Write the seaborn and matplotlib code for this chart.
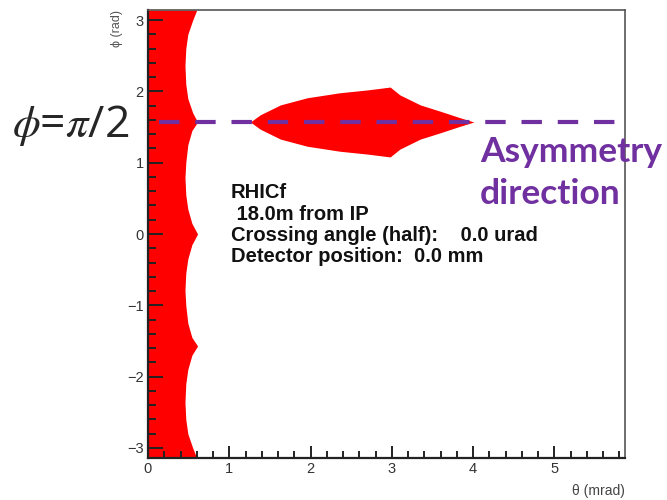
from __future__ import annotations

import matplotlib

matplotlib.use("Agg")

import matplotlib.pyplot as plt
import numpy as np
import pandas as pd
import seaborn as sns


# Left acceptance strip: phi (rad) vs. outer theta edge (mrad)
STRIP_PHI = [
    -3.1416, -3.0, -2.8, -2.6, -2.36, -2.1, -1.9, -1.7, -1.5708,
    -1.45, -1.25, -1.0, -0.79, -0.55, -0.35, -0.15, 0.0,
    0.15, 0.35, 0.55, 0.79, 1.0, 1.25, 1.45, 1.5708,
    1.7, 1.9, 2.1, 2.36, 2.6, 2.8, 3.0, 3.1416,
]
STRIP_THETA = [
    0.60, 0.55, 0.49, 0.465, 0.455, 0.465, 0.49, 0.54, 0.61,
    0.54, 0.49, 0.465, 0.455, 0.465, 0.49, 0.54, 0.61,
    0.54, 0.49, 0.465, 0.455, 0.465, 0.49, 0.54, 0.61,
    0.55, 0.49, 0.465, 0.455, 0.465, 0.49, 0.55, 0.60,
]

# Lens-shaped acceptance around phi = pi/2: theta (mrad) vs. half width in phi
LENS_THETA = [1.26, 1.38, 1.63, 1.96, 2.36, 2.70, 2.98, 3.10, 3.35, 3.60, 3.84, 4.01]
LENS_HALF = [0.0, 0.10, 0.24, 0.34, 0.41, 0.45, 0.49, 0.38, 0.24, 0.15, 0.06, 0.0]
LENS_CENTER = 1.5708

# Dashed asymmetry direction line
DIR_THETA = [0.135, 5.91]
DIR_PHI = [1.5708, 1.5708]

X_TICKS = [0, 1, 2, 3, 4, 5]
Y_TICKS = [-3, -2, -1, 0, 1, 2, 3]

INFO_LINES = [
    "RHICf",
    " 18.0m from IP",
    "Crossing angle (half):    0.0 urad",
    "Detector position:  0.0 mm",
]

RED = "#ff0000"
PURPLE = "#7030a0"


def main() -> None:
    sns.set_style("ticks")
    plt.rcParams["font.family"] = ["Liberation Sans", "DejaVu Sans"]

    fig = plt.figure(figsize=(6.67, 5.0), dpi=100)
    ax = fig.add_axes([148 / 667, 42 / 500, 477 / 667, 448 / 500])

    ax.fill_betweenx(STRIP_PHI, 0, STRIP_THETA, color=RED, linewidth=0, zorder=1)

    lens_theta = np.array(LENS_THETA)
    lens_half = np.array(LENS_HALF)
    ax.fill_between(
        lens_theta,
        LENS_CENTER - lens_half,
        LENS_CENTER + lens_half,
        color=RED,
        linewidth=0,
        zorder=1,
    )

    line_df = pd.DataFrame({"theta": DIR_THETA, "phi": DIR_PHI})
    sns.lineplot(data=line_df, x="theta", y="phi", ax=ax, color=PURPLE,
                 linewidth=3.0, zorder=4)
    dir_line = ax.lines[-1]
    dir_line.set_dashes((4.9, 3.8))
    dir_line.set_clip_on(False)

    ax.set_xlim(0, 5.87)
    ax.set_ylim(-3.1416, 3.1416)
    ax.set_xticks(X_TICKS)
    ax.set_yticks(Y_TICKS)
    ax.set_xticks(np.arange(0, 5.9, 0.2), minor=True)
    ax.set_yticks(np.arange(-3.0, 3.1, 0.2), minor=True)
    ax.set_yticklabels(["\u22123", "\u22122", "\u22121", "0", "1", "2", "3"])

    ax.tick_params(axis="both", which="both", direction="in", colors="#222222",
                   labelsize=10.5, width=1.4, labelcolor="#333333")
    ax.tick_params(axis="y", which="major", length=10.8, pad=3)
    ax.tick_params(axis="y", which="minor", length=5.8)
    ax.tick_params(axis="x", which="major", length=8.6, pad=3)
    ax.tick_params(axis="x", which="minor", length=5.0)

    for side in ["left", "bottom"]:
        ax.spines[side].set_linewidth(1.6)
        ax.spines[side].set_color("#222222")
    for side in ["top", "right"]:
        ax.spines[side].set_linewidth(1.2)
        ax.spines[side].set_color("#555555")
    ax.set_axisbelow(False)

    ax.set_ylabel("\u03d5 (rad)", loc="top", fontsize=9, color="#555555", labelpad=3)
    ax.set_xlabel("\u03b8 (mrad)", loc="right", fontsize=10, color="#444444", labelpad=6)

    y0 = 1 - 198 / 500
    for i, line in enumerate(INFO_LINES):
        fig.text(231 / 667, y0 - i * 21.5 / 500, line, fontsize=14.5,
                 fontweight="bold", color="#111111", va="baseline")

    fig.text(12 / 667, 1 - 125 / 500, r"$\phi$=$\pi$/2", fontsize=32,
             va="center", ha="left", family=["Open Sans", "DejaVu Sans"],
             math_fontfamily="stix")

    fig.text(480 / 667, 1 - 162 / 500, "Asymmetry", fontsize=25.5, fontweight="bold",
             color=PURPLE, va="baseline", family=["Lato", "DejaVu Sans"])
    fig.text(480 / 667, 1 - 204 / 500, "direction", fontsize=25.5, fontweight="bold",
             color=PURPLE, va="baseline", family=["Lato", "DejaVu Sans"])

    fig.savefig("out.png", dpi=100)
    plt.close(fig)


if __name__ == "__main__":
    main()
